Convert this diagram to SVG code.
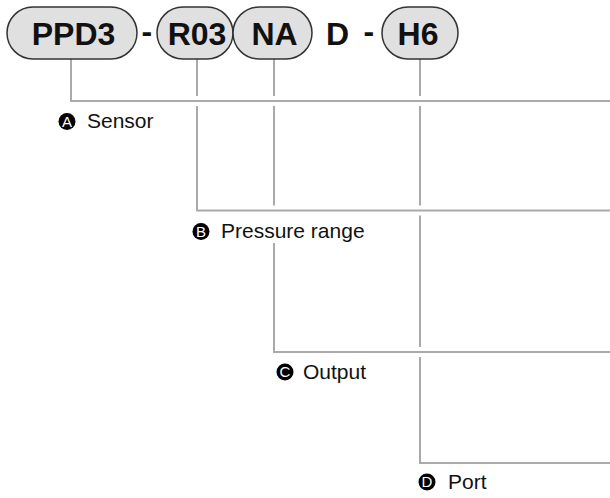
<svg xmlns="http://www.w3.org/2000/svg" width="610" height="498" viewBox="0 0 610 498">
<style>
.pill{fill:#e0e0e0;stroke:#333;stroke-width:1.5}
.code{font-family:"Liberation Sans",Arial,sans-serif;font-weight:bold;font-size:32px;fill:#111}
.ln{fill:none;stroke:#aaa;stroke-width:2}
.lbl{font-family:"Liberation Sans",Arial,sans-serif;font-size:21px;fill:#111}
.badge{fill:#000}
.bt{font-family:"Liberation Sans",Arial,sans-serif;font-size:15px;fill:#fff;text-anchor:middle}
</style>
<rect width="610" height="498" fill="#fff"/>
<g id="connectors">
<polyline class="ln" points="71,59 71,101 610,101"/>
<polyline class="ln" points="197,59 197,96"/>
<polyline class="ln" points="197,106 197,210.5 610,210.5"/>
<polyline class="ln" points="274,59 274,96"/>
<polyline class="ln" points="274,106 274,205.5"/>
<polyline class="ln" points="274,243 274,352 610,352"/>
<polyline class="ln" points="420,59 420,96"/>
<polyline class="ln" points="420,106 420,205.5"/>
<polyline class="ln" points="420,215.5 420,347"/>
<polyline class="ln" points="420,357 420,463 610,463"/>
</g>
<g id="node-ppd3">
<rect class="pill" x="7" y="7" width="130" height="52" rx="26"/>
<text class="code" x="73.5" y="45" text-anchor="middle">PPD3</text>
</g>
<g id="dash1"><text class="code" x="141.5" y="42">-</text></g>
<g id="node-r03">
<rect class="pill" x="157" y="7" width="76" height="52" rx="26"/>
<text class="code" x="197" y="45" text-anchor="middle">R03</text>
</g>
<g id="node-na">
<rect class="pill" x="233" y="7" width="79" height="52" rx="26"/>
<text class="code" x="274.5" y="45" text-anchor="middle">NA</text>
</g>
<g id="node-d"><text class="code" x="326" y="45">D</text></g>
<g id="dash2"><text class="code" x="363.5" y="42">-</text></g>
<g id="node-h6">
<rect class="pill" x="382" y="7" width="76" height="52" rx="26"/>
<text class="code" x="418" y="45" text-anchor="middle">H6</text>
</g>
<g id="label-a">
<circle class="badge" cx="67" cy="121.5" r="8.5"/>
<text class="bt" x="67" y="126.8">A</text>
<text class="lbl" x="87" y="128">Sensor</text>
</g>
<g id="label-b">
<circle class="badge" cx="201" cy="231.5" r="8.5"/>
<text class="bt" x="201" y="236.8">B</text>
<text class="lbl" x="221" y="238">Pressure range</text>
</g>
<g id="label-c">
<circle class="badge" cx="285" cy="372" r="8.5"/>
<text class="bt" x="285" y="377.3">C</text>
<text class="lbl" x="303" y="378.5">Output</text>
</g>
<g id="label-d">
<circle class="badge" cx="427" cy="482" r="8.5"/>
<text class="bt" x="427" y="487.3">D</text>
<text class="lbl" x="448" y="488.5">Port</text>
</g>
</svg>
